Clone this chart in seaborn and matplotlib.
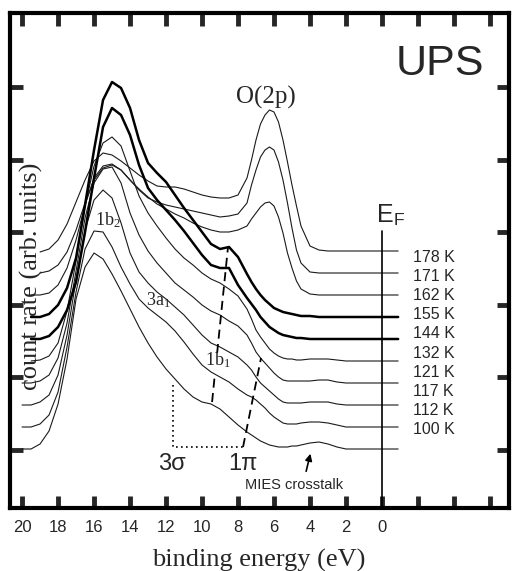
import numpy as np
import pandas as pd
import matplotlib
matplotlib.use('Agg')
import matplotlib.pyplot as plt
import seaborn as sns

nan = np.nan

# binding energy grid (eV) and count rates (arb. units)
energy = [20, 19.5, 19, 18.5, 18, 17.5, 17, 16.5, 16, 15.5, 15, 14.5, 14, 13.5, 13, 12.5,
          12, 11.5, 11, 10.5, 10, 9.5, 9, 8.5, 8, 7.5, 7.25, 7, 6.75, 6.5, 6.25, 6, 5.75,
          5.5, 5.25, 5, 4.75, 4.5, 4, 3.5, 3, 2.5, 2, 1, 0, -0.9]

c178 = [nan, nan, 256, 259, 268, 284, 306, 328, 347, 355, 353, 347, 340, 333, 327, 322,
        321, 321, 319, 316, 313, 311, 310, 310, 313, 330, 348, 368, 384, 393, 398, 396, 386,
        368, 346, 323, 302, 282, 262, 258, 257, 257, 257, 257, 257, 257]
c171 = [nan, nan, 235, 237, 243, 256, 278, 305, 328, 340, 343, 338, 328, 318, 310, 306,
        303, 301, 299, 297, 295, 293, 291, 292, 294, 305, 323, 338, 351, 358, 361, 358, 346,
        328, 305, 280, 258, 245, 236, 235, 235, 235, 235, 235, 235, 235]
c162 = [nan, 213, 213, 215, 223, 240, 268, 303, 330, 342, 344, 338, 328, 319, 311, 304,
        299, 294, 290, 285, 281, 278, 276, 276, 278, 282, 289, 295, 301, 305, 306, 302, 291,
        275, 255, 240, 227, 219, 214, 213, 213, 213, 213, 213, 213, 213]
c155 = [nan, 191, 191, 194, 203, 220, 250, 303, 358, 408, 426, 420, 400, 368, 345, 335,
        326, 313, 300, 288, 276, 264, 259, 261, 251, 234, 226, 219, 213, 208, 204, 200, 198,
        196, 195, 194, 193, 192, 192, 191, 191, 191, 191, 191, 191, 191]
c144 = [nan, 169, 169, 172, 181, 198, 226, 276, 330, 381, 400, 393, 373, 343, 320, 308,
        298, 288, 277, 265, 253, 243, 240, 240, 223, 210, 204, 198, 191, 186, 181, 178, 175,
        173, 172, 171, 170, 170, 169, 169, 169, 169, 169, 169, 169, 169]
c132 = [nan, 147, 148, 152, 165, 197, 247, 302, 342, 365, 371, 362, 337, 312, 295, 282,
        270, 259, 250, 243, 235, 229, 225, 219, 212, 199, 189, 178, 171, 165, 159, 155, 152,
        150, 149, 149, 148, 148, 149, 149, 149, 148, 147, 147, 147, 147]
c121 = [125, 125, 127, 133, 150, 185, 237, 290, 325, 339, 341, 325, 295, 273, 257, 245,
        235, 225, 218, 211, 203, 197, 193, 187, 182, 173, 165, 156, 150, 145, 140, 135, 131,
        128, 127, 127, 127, 127, 127, 128, 128, 126, 125, 125, 125, 125]
c117 = [103, 103, 106, 113, 133, 173, 228, 278, 308, 318, 310, 285, 255, 236, 225, 216,
        209, 201, 193, 183, 173, 165, 161, 156, 151, 143, 138, 131, 125, 121, 117, 113, 109,
        106, 105, 105, 105, 105, 106, 106, 106, 104, 103, 103, 103, 103]
c112 = [81, 81, 84, 93, 116, 161, 216, 259, 277, 276, 261, 241, 224, 209, 200, 193,
        186, 177, 166, 154, 143, 136, 131, 126, 119, 113, 111, 108, 104, 100, 95, 91, 88,
        85, 84, 84, 84, 85, 86, 86, 85, 83, 81, 81, 81, 81]
c100 = [59, 59, 64, 77, 104, 149, 209, 241, 255, 249, 234, 217, 199, 181, 165, 151,
        139, 129, 119, 111, 106, 104, 99, 91, 83, 76, 73, 70, 67, 65, 63, 62, 61,
        61, 61, 62, 62, 63, 65, 66, 64, 61, 59, 59, 59, 59]

temps = ['178 K', '171 K', '162 K', '155 K', '144 K', '132 K', '121 K', '117 K', '112 K', '100 K']
spectra = [c178, c171, c162, c155, c144, c132, c121, c117, c112, c100]
thick = ['155 K', '144 K']

xtick_vals = [20, 18, 16, 14, 12, 10, 8, 6, 4, 2, 0, -2, -4, -6]
xtick_labels = ['20', '18', '16', '14', '12', '10', '8', '6', '4', '2', '0', '', '', '']

# long-form table
rows = []
for t, vals in zip(temps, spectra):
    for e, v in zip(energy, vals):
        rows.append((t, e, v))
df = pd.DataFrame(rows, columns=['temp', 'energy', 'count']).dropna()

sns.set_style('ticks')
plt.rcParams['font.family'] = ['Liberation Sans', 'DejaVu Sans']
plt.rcParams['mathtext.fontset'] = 'stix'

fig = plt.figure(figsize=(5.12, 5.71), dpi=100)
ax = fig.add_axes([10 / 512, 63 / 571, 499 / 512, 495 / 571])

for t in temps:
    if t in thick:
        continue
    sub = df[df.temp == t]
    sns.lineplot(x=sub.energy, y=sub['count'], ax=ax, color='#1a1a1a', linewidth=0.8,
                 estimator=None, sort=False)
for t in thick:
    sub = df[df.temp == t]
    sns.lineplot(x=sub.energy, y=sub['count'], ax=ax, color='black', linewidth=1.8,
                 estimator=None, sort=False)

ax.set_xlim(20.67, -7.06)
ax.set_ylim(0, 495)
ax.set_xlabel('')
ax.set_ylabel('')
ax.set_xticks(xtick_vals)
ax.set_xticklabels(xtick_labels)
ax.set_yticks(np.arange(58, 440, 72.6))
ax.tick_params(direction='in', length=9, width=3.5, top=True, right=True,
               labelleft=False, labelsize=12, pad=9)
for s in ax.spines.values():
    s.set_linewidth(3)
    s.set_color('black')

# Fermi level line
ax.plot([0, 0], [0, 277], color='black', lw=1.2)
ax.text(-0.45, 285, r'E$_{\mathregular{F}}$', fontsize=18, ha='center', va='baseline')

# temperature labels
for i, t in enumerate(temps):
    ax.text(-1.72, 246 - 19.1 * i, t, fontsize=11.5, ha='left', va='baseline')

# peak assignment guides
ax.plot([9.44, 9.29], [106, 133], color='black', lw=1.3, ls=(0, (5, 3)))
ax.plot([9.16, 8.56], [155, 260], color='black', lw=1.3, ls=(0, (5, 3)))
ax.plot([7.72, 6.72], [61, 150], color='black', lw=1.3, ls=(0, (5, 3)))
ax.plot([11.6, 11.6, 7.72], [123, 61, 61], color='black', lw=1.2, ls=(0, (1, 2)))

serif = ['Liberation Serif', 'DejaVu Serif']
ax.text(15.95, 282, r'1b$_{\mathregular{2}}$', fontsize=13, family=serif, ha='left', va='baseline')
ax.text(13.1, 202, r'3a$_{\mathregular{1}}$', fontsize=13, family=serif, ha='left', va='baseline')
ax.text(9.85, 142, r'1b$_{\mathregular{1}}$', fontsize=13, family=serif, ha='left', va='baseline')
ax.text(12.44, 38, '3σ', fontsize=17, ha='left', va='baseline')
ax.text(8.56, 38, '1π', fontsize=17, ha='left', va='baseline')
ax.text(6.47, 404, 'O(2p)', fontsize=18, family=serif, ha='center', va='baseline')
ax.text(-0.78, 433, 'UPS', fontsize=31, ha='left', va='baseline')
ax.text(7.6, 19, 'MIES crosstalk', fontsize=10.5, ha='left', va='baseline')
ax.annotate('', xy=(3.94, 57), xytext=(4.25, 34),
            arrowprops=dict(arrowstyle='-|>', color='black', lw=1.2, mutation_scale=10))

# axis titles
ax.text(19.5, 232, 'count rate (arb. units)', fontsize=19, family=serif, rotation=90,
        ha='center', va='center')
fig.text(259 / 512, 4 / 571, 'binding energy (eV)', fontsize=19, family=serif,
         ha='center', va='baseline')

fig.savefig('out.png', dpi=100)
